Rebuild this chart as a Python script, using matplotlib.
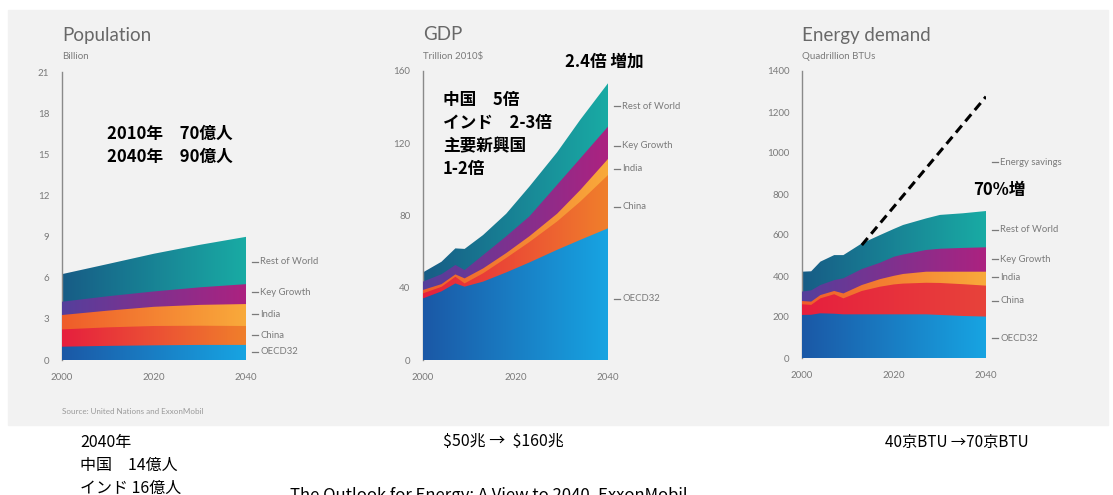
import numpy as np
import matplotlib
matplotlib.use("Agg")
import matplotlib.pyplot as plt
from matplotlib.colors import LinearSegmentedColormap
from matplotlib.patches import Rectangle

# Stacked band tops (cumulative, bottom to top)
pop_years = [2000, 2010, 2020, 2030, 2040]
pop_oecd = [0.97, 1.03, 1.07, 1.10, 1.10]
pop_china = [2.23, 2.38, 2.48, 2.50, 2.48]
pop_india = [3.28, 3.60, 3.88, 4.02, 4.08]
pop_keygrowth = [4.25, 4.65, 5.00, 5.30, 5.53]
pop_total = [6.26, 7.00, 7.75, 8.40, 8.98]

gdp_years = [2000, 2004, 2007, 2009, 2013, 2018, 2023, 2029, 2034, 2040]
gdp_oecd = [34.1, 38.0, 42.4, 40.6, 43.4, 48.5, 54.0, 61.0, 66.5, 72.9]
gdp_china = [36.9, 40.5, 46.1, 42.4, 48.0, 56.5, 65.3, 76.7, 87.7, 102.4]
gdp_india = [38.8, 42.0, 47.4, 45.2, 50.7, 59.2, 68.5, 81.0, 94.1, 111.3]
gdp_keygrowth = [43.4, 47.5, 52.6, 49.8, 58.1, 68.5, 79.5, 97.0, 111.6, 129.2]
gdp_total = [48.5, 54.4, 61.8, 61.5, 69.2, 81.0, 96.0, 115.0, 133.0, 153.2]

en_years = [2000, 2002, 2004, 2007, 2009, 2013, 2017, 2020, 2022, 2027, 2030, 2035, 2040]
en_oecd = [210, 211, 218, 216, 213, 213, 213, 213, 213, 213, 210, 205, 202]
en_china = [262, 259, 291, 311, 291, 327, 348, 359, 363, 367, 366, 360, 353]
en_india = [278, 275, 307, 327, 315, 356, 385, 401, 410, 421, 421, 421, 421]
en_keygrowth = [324, 330, 356, 380, 389, 434, 465, 494, 505, 527, 533, 537, 540]
en_total = [421, 423, 470, 502, 502, 559, 600, 630, 649, 681, 698, 706, 717]
savings_years = [2013, 2040]
savings_values = [551, 1275]

series_names = ["Rest of World", "Key Growth", "India", "China", "OECD32"]
pop_label_y = [7.15, 4.95, 3.35, 1.82, 0.6]
gdp_label_y = [140.5, 118.5, 106, 84.8, 34]
en_label_y = [625, 482, 394, 279, 97]

# left -> right gradient colours for each band
grads = {
    "Rest of World": ("#175c86", "#19aba4"),
    "Key Growth": ("#553f9c", "#ac2280"),
    "India": ("#ef5c2a", "#f9aa3b"),
    "China": ("#e61f3e", "#f07f2b"),
    "OECD32": ("#1b58a6", "#17a4e2"),
}

cjk = ["Noto Sans CJK JP", "DejaVu Sans"]
latin = ["Lato", "DejaVu Sans"]
gray = "#7a7a7a"

fig = plt.figure(figsize=(11.13, 4.95), dpi=100)
W, H = 1113.0, 495.0
fig.patches.append(Rectangle((8 / W, 1 - 425 / H), 1100 / W, 415 / H,
                             transform=fig.transFigure, color="#f2f2f2", zorder=-5))


def grad_band(ax, x, top, c0, c1, ymax, z):
    x = np.asarray(x, float)
    poly = ax.fill_between(x, 0, top, color="none", lw=0)
    path = poly.get_paths()[0]
    cmap = LinearSegmentedColormap.from_list("g", [c0, c1])
    im = ax.imshow(np.linspace(0, 1, 256).reshape(1, -1), cmap=cmap, aspect="auto",
                   extent=[x.min(), x.max(), 0, ymax], origin="lower",
                   interpolation="bilinear", zorder=z)
    im.set_clip_path(path, transform=ax.transData)


def make_panel(rect, years, tops, ymax, yticks, label_y, title, unit, overrides=None):
    ax = fig.add_axes(rect)
    ax.set_facecolor("none")
    cols = dict(grads)
    if overrides:
        cols.update(overrides)
    for i, (name, top) in enumerate(zip(series_names, tops)):
        grad_band(ax, years, top, *cols[name], ymax, 2 + i)
    ax.set_xlim(2000, 2040)
    ax.set_ylim(0, ymax)
    for s in ["top", "right", "bottom"]:
        ax.spines[s].set_visible(False)
    ax.spines["left"].set_color("#8a8a8a")
    ax.spines["left"].set_linewidth(1.0)
    ax.set_yticks(yticks)
    ax.set_xticks([2000, 2020, 2040])
    ax.tick_params(length=0, labelsize=7, labelcolor=gray)
    ax.tick_params(axis="y", pad=9)
    ax.tick_params(axis="x", pad=9)
    for t in ax.get_xticklabels() + ax.get_yticklabels():
        t.set_family(latin)
    for name, ly in zip(series_names, label_y):
        ax.plot([2041.2, 2042.6], [ly, ly], color=gray, lw=0.9, clip_on=False)
        ax.text(2043.1, ly, name, fontsize=6.8, color=gray, va="center",
                family=latin, clip_on=False)
    x0 = rect[0]
    fig.text(x0, 1 - 35 / H, title, fontsize=13.5, color="#686868", va="center",
             family=latin)
    fig.text(x0, 1 - 56 / H, unit, fontsize=7, color=gray, va="center", family=latin)
    return ax


pop_tops = [pop_total, pop_keygrowth, pop_india, pop_china, pop_oecd]
gdp_tops = [gdp_total, gdp_keygrowth, gdp_india, gdp_china, gdp_oecd]
en_tops = [en_total, en_keygrowth, en_india, en_china, en_oecd]

ax1 = make_panel([62 / W, 1 - 360 / H, 184 / W, 288 / H], pop_years, pop_tops, 21,
                 range(0, 22, 3), pop_label_y, "Population", "Billion")
ax2 = make_panel([423 / W, 1 - 360 / H, 185 / W, 289 / H], gdp_years, gdp_tops, 160,
                 range(0, 161, 40), gdp_label_y, "GDP", "Trillion 2010$")
ax3 = make_panel([802 / W, 1 - 358 / H, 184 / W, 287 / H], en_years, en_tops, 1400,
                 range(0, 1401, 200), en_label_y, "Energy demand", "Quadrillion BTUs",
                 overrides={"China": ("#e61f3e", "#e8433a")})

ax3.plot(savings_years, savings_values, color="black", lw=2.2, ls=(0, (3, 1.8)), zorder=10)
ax3.plot([2041.2, 2042.6], [954, 954], color=gray, lw=0.9, clip_on=False)
ax3.text(2043.1, 954, "Energy savings", fontsize=6.8, color=gray, va="center",
         family=latin, clip_on=False)

fig.text(62 / W, 1 - 412 / H, "Source: United Nations and ExxonMobil", fontsize=5.8,
         color="#9a9a9a", va="center", family=latin)

# Japanese annotations
big = dict(fontsize=12, color="black", family=cjk, weight="bold", va="center")
fig.text(107 / W, 1 - 134 / H, "2010年　70億人", **big)
fig.text(107 / W, 1 - 157 / H, "2040年　90億人", **big)
fig.text(565 / W, 1 - 62 / H, "2.4倍 増加", **big)
for i, line in enumerate(["中国　5倍", "インド　2-3倍", "主要新興国", "1-2倍"]):
    fig.text(443 / W, 1 - (100 + 23 * i) / H, line, **big)
fig.text(973 / W, 1 - 190 / H, "70%増", **big)

small = dict(fontsize=11.5, color="black", family=cjk, va="center")
fig.text(80 / W, 1 - 442 / H, "2040年", **small)
fig.text(80 / W, 1 - 465 / H, "中国　14億人", **small)
fig.text(80 / W, 1 - 488 / H, "インド 16億人", **small)
fig.text(443 / W, 1 - 442 / H, r"\$50兆 →  \$160兆", **small)
fig.text(885 / W, 1 - 442 / H, "40京BTU →70京BTU", fontsize=11, color="black",
         family=cjk, va="center")
fig.text(290 / W, 1 - 496 / H, "The Outlook for Energy: A View to 2040, ExxonMobil",
         fontsize=12, color="black", family=cjk, va="center")

fig.savefig("out.png", dpi=100, facecolor="white")
